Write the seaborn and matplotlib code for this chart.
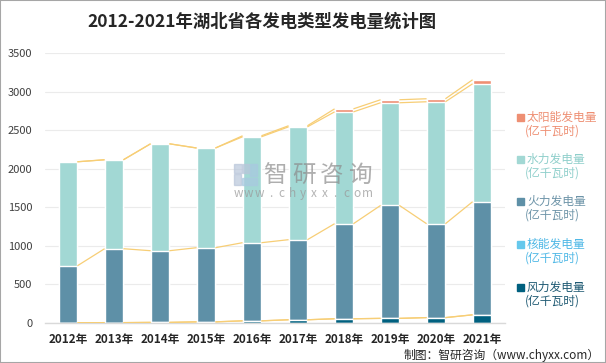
import matplotlib
matplotlib.use("Agg")
import matplotlib.pyplot as plt
import seaborn as sns
import numpy as np
import pandas as pd
from matplotlib.patches import Rectangle

years = ["2012年", "2013年", "2014年", "2015年", "2016年", "2017年", "2018年", "2019年", "2020年", "2021年"]
wind = [3, 5, 8, 15, 28, 42, 55, 60, 70, 106]
nuclear = [0, 0, 0, 0, 0, 0, 0, 0, 0, 0]
thermal = [739, 958, 929, 961, 1013, 1038, 1232, 1464, 1217, 1466]
hydro = [1348, 1153, 1386, 1292, 1373, 1463, 1450, 1331, 1581, 1529]
solar = [0, 0, 0, 1, 13, 14, 39, 39, 39, 52]

series_names = ["风力发电量", "核能发电量", "火力发电量", "水力发电量", "太阳能发电量"]
series_vals = [wind, nuclear, thermal, hydro, solar]
colors = ["#00607F", "#66C8EC", "#5E90A7", "#A2D8D4", "#EE8F73"]
text_colors = ["#1F5A73", "#4FB8E6", "#6D94A8", "#8FCFCB", "#EE8F73"]

sns.set_theme(style="white")
plt.rcParams['font.family'] = ['Noto Sans CJK SC', 'DejaVu Sans']

fig = plt.figure(figsize=(6.06, 3.63), dpi=100)
W, H = 606, 363
ax = fig.add_axes([45 / W, 1 - 323 / H, 460 / W, 270 / H])

cum = np.cumsum(np.array(series_vals, dtype=float), axis=0)
x = np.arange(len(years))
bw = 0.41

# draw tallest cumulative first
for k in range(len(series_vals) - 1, -1, -1):
    df = pd.DataFrame({"year": years, "v": cum[k]})
    sns.barplot(data=df, x="year", y="v", color=colors[k], width=bw,
                saturation=1, ax=ax, order=years, errorbar=None, zorder=2)

# series lines
for k in range(len(series_vals)):
    for i in range(len(years) - 1):
        ax.plot([x[i] + bw / 2, x[i + 1] - bw / 2], [cum[k][i], cum[k][i + 1]],
                color="#F7CE76", lw=0.9, zorder=3, solid_capstyle="butt")

ax.set_xlim(-0.5, len(years) - 0.5)
ax.set_ylim(0, 3500)
ax.set_yticks(np.arange(0, 3501, 500))
ax.set_xlabel("")
ax.set_ylabel("")
ax.grid(axis="y", color="#EBEBEB", lw=0.8, zorder=0)
ax.set_axisbelow(True)
for s in ["top", "right", "left"]:
    ax.spines[s].set_visible(False)
ax.spines["bottom"].set_color("#D9D9D9")
ax.spines["bottom"].set_linewidth(1.0)
ax.tick_params(axis="y", length=0, pad=9, labelsize=8, labelcolor="#404040")
ax.tick_params(axis="x", length=0, pad=7, labelsize=8.4, labelcolor="#262626")
for lab in ax.get_xticklabels():
    lab.set_fontweight("bold")

# title
fig.text(0.5 * (103 + 420) / W, 1 - 22 / H, "2012-2021年湖北省各发电类型发电量统计图",
         ha="center", va="center", fontsize=12.5, fontweight="bold", color="#262626")

# legend (manual, top to bottom: solar, hydro, thermal, nuclear, wind)
ys = [117, 159, 201, 244, 287]
for j, k in enumerate([4, 3, 2, 1, 0]):
    y0 = ys[j]
    fig.patches.append(Rectangle(((517) / W, 1 - (y0 + 3.5) / H), 7 / W, 7 / H,
                                 transform=fig.transFigure, color=colors[k]))
    fig.text(527 / W, 1 - y0 / H, series_names[k], ha="left", va="center",
             fontsize=8.5, color=text_colors[k])
    fig.text(525 / W, 1 - (y0 + 14) / H, "(亿千瓦时)", ha="left", va="center",
             fontsize=8.5, color=text_colors[k])

# watermark
for (lx, ly, lw_, lh, c) in [(234, 164, 8, 9, "#B9C6DA"), (243, 164, 6, 9, "#B9C6DA"),
                             (234, 174, 7, 11, "#B9C6DA"), (242, 178, 15, 7, "#A9C9E0"),
                             (250, 164, 7, 12, "#A9C9E0")]:
    fig.patches.append(Rectangle((lx / W, 1 - (ly + lh) / H), lw_ / W, lh / H,
                                 transform=fig.transFigure, color=c, alpha=0.7, zorder=5))
for ch, cx in zip("智研咨询", [275, 304, 332, 360]):
    fig.text(cx / W, 1 - 175 / H, ch, ha="center", va="center", fontsize=17,
             color="#8C8C8C", alpha=0.7, zorder=5)
for i, ch in enumerate("www.chyxx.com"):
    fig.text((238 + i * 10.8) / W, 1 - 193 / H, ch, ha="center", va="center",
             fontsize=8.5, color="#9A9A9A", alpha=0.75, zorder=5)

# footer
fig.text(600 / W, 1 - 355 / H, "制图：智研咨询（www.chyxx.com）", ha="right", va="center",
         fontsize=8.5, color="#262626")

# figure border
fig.patches.append(Rectangle((0, 0), 1, 1, transform=fig.transFigure, fill=False,
                             edgecolor="#A6A6A6", lw=1.5))

fig.savefig("out.png", dpi=100)
